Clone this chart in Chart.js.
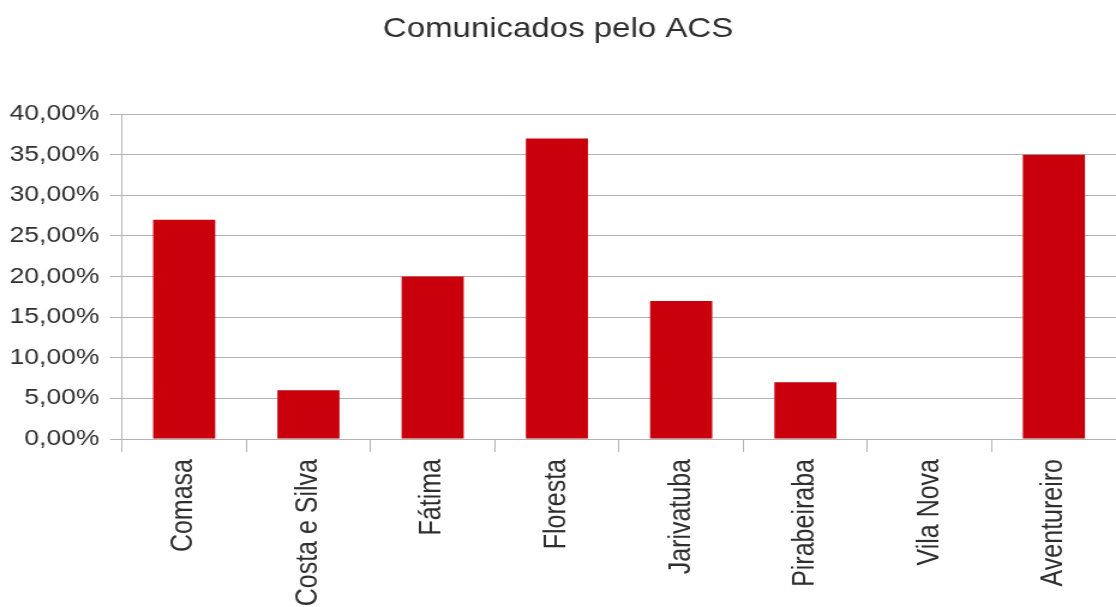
<!DOCTYPE html>
<html>
<head>
<meta charset="utf-8">
<script src="https://cdn.jsdelivr.net/npm/chart.js@4/dist/chart.umd.min.js"></script>
<style>
  html, body { margin: 0; padding: 0; background: #ffffff; }
  #chart { display: block; width: 1116px !important; height: 607px !important; }
</style>
</head>
<body>
<!-- drawn at 930 px wide and shown at 1116 px, giving the wide lettering of the original export -->
<canvas id="chart" width="930" height="607" style="width:1116px;height:607px"></canvas>
<script>
const bairros = ['Comasa', 'Costa e Silva', 'Fátima', 'Floresta', 'Jarivatuba', 'Pirabeiraba', 'Vila Nova', 'Aventureiro'];
const percentuais = [27, 6, 20, 37, 17, 7, 0, 35];
const tituloGrafico = 'Comunicados pelo ACS';
const eixoMin = 0;
const eixoMax = 40;
const eixoPasso = 5;

const fonte = '"Liberation Sans", Arial, sans-serif';
const cinzaGrade = '#b3b3b3';
const corTexto = '#2e2e2e';

new Chart(document.getElementById('chart'), {
  type: 'bar',
  data: {
    labels: bairros,
    datasets: [{
      data: percentuais,
      backgroundColor: '#c9000b',
      borderWidth: 0,
      barPercentage: 0.5,
      categoryPercentage: 1.0
    }]
  },
  options: {
    responsive: false,
    animation: false,
    devicePixelRatio: 1,
    layout: { padding: { left: 0, right: 0, top: 0, bottom: 0 } },
    plugins: {
      legend: { display: false },
      tooltip: { enabled: false },
      title: {
        display: true,
        text: tituloGrafico,
        color: corTexto,
        font: { family: fonte, size: 27.5, weight: 'normal' },
        padding: { top: 13, bottom: 68 }
      }
    },
    scales: {
      x: {
        offset: true,
        grid: {
          offset: true,
          drawOnChartArea: false,
          drawTicks: true,
          tickLength: 13,
          color: cinzaGrade,
          lineWidth: 1
        },
        border: { display: true, color: cinzaGrade, width: 1 },
        ticks: {
          minRotation: 90,
          maxRotation: 90,
          autoSkip: false,
          padding: 7,
          color: corTexto,
          font: { family: fonte, size: 25 }
        },
        afterFit: (scale) => { scale.height = 168; }
      },
      y: {
        min: eixoMin,
        max: eixoMax,
        grid: {
          color: cinzaGrade,
          lineWidth: 1,
          drawTicks: true,
          tickLength: 10
        },
        border: { display: true, color: cinzaGrade, width: 1 },
        ticks: {
          stepSize: eixoPasso,
          padding: 9,
          color: corTexto,
          font: { family: fonte, size: 22 },
          callback: (v) => v.toFixed(2).replace('.', ',') + '%'
        },
        afterFit: (scale) => { scale.width = 101.7; }
      }
    }
  }
});
</script>
</body>
</html>
